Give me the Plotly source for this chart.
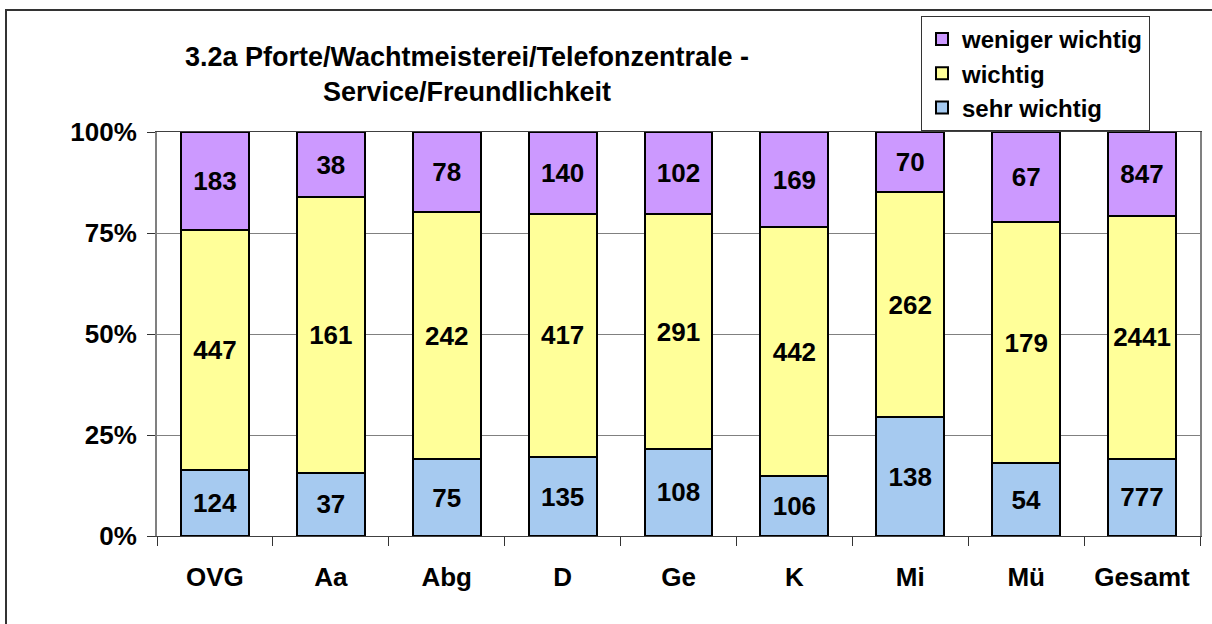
import plotly.graph_objects as go

categories = ["OVG", "Aa", "Abg", "D", "Ge", "K", "Mi", "Mü", "Gesamt"]
sehr_wichtig = [124, 37, 75, 135, 108, 106, 138, 54, 777]
wichtig = [447, 161, 242, 417, 291, 442, 262, 179, 2441]
weniger_wichtig = [183, 38, 78, 140, 102, 169, 70, 67, 847]
y_ticks = [0, 25, 50, 75, 100]
y_tick_labels = ["0%", "25%", "50%", "75%", "100%"]

series = [
    ("sehr wichtig", sehr_wichtig, "#A6CAF0"),
    ("wichtig", wichtig, "#FFFF99"),
    ("weniger wichtig", weniger_wichtig, "#CC99FF"),
]

FONT = "Liberation Sans, Arial, sans-serif"
FS = 26

fig = go.Figure()
for name, vals, color in series:
    fig.add_trace(go.Bar(
        name=name, x=categories, y=vals,
        marker=dict(color=color, line=dict(color="#000000", width=2)),
        text=[str(v) for v in vals],
        textposition="inside", insidetextanchor="middle",
        constraintext="none",
        textfont=dict(family=FONT, size=FS, color="#000000", weight="bold"),
        hoverinfo="skip",
    ))

fig.update_layout(
    barmode="stack", barnorm="percent", bargap=0.414,
    width=1212, height=624,
    margin=dict(l=157, r=12, t=132, b=88, autoexpand=False),
    paper_bgcolor="#FFFFFF", plot_bgcolor="#FFFFFF",
    font=dict(family=FONT, size=FS, color="#000000", weight="bold"),
    title=dict(
        text="3.2a Pforte/Wachtmeisterei/Telefonzentrale -<br>Service/Freundlichkeit",
        x=467 / 1212, xanchor="center", xref="container",
        y=1 - 65.5 / 624, yanchor="middle", yref="container",
        font=dict(family=FONT, size=27, color="#000000", weight="bold"),
    ),
    legend=dict(
        x=(921 - 157) / 1043, y=(536 - 16) / 404,
        xanchor="left", yanchor="top",
        traceorder="reversed",
        bgcolor="#FFFFFF", bordercolor="#333333", borderwidth=1,
        font=dict(family=FONT, size=24, color="#000000", weight="bold"),
    ),
    showlegend=True,
)

fig.update_xaxes(
    type="category", tickson="boundaries",
    ticks="outside", ticklen=9, tickcolor="#333333", tickwidth=1,
    showline=True, linecolor="#404040", linewidth=1, mirror=True,
    showgrid=False, ticklabelstandoff=18,
    tickfont=dict(family=FONT, size=FS, color="#000000", weight="bold"),
)
fig.update_yaxes(
    range=[0, 100], tickmode="array", tickvals=y_ticks, ticktext=y_tick_labels,
    ticks="outside", ticklen=8, tickcolor="#333333", tickwidth=1,
    showline=True, linecolor="#808080", linewidth=2, mirror=True,
    showgrid=True, gridcolor="#808080", gridwidth=1,
    zeroline=False, ticklabelstandoff=5,
    tickfont=dict(family=FONT, size=FS, color="#000000", weight="bold"),
)

# outer chart frame
fig.add_shape(
    type="rect", xref="paper", yref="paper",
    x0=(6 - 157) / 1043, x1=(1230 - 157) / 1043,
    y0=(536 - 640) / 404, y1=(536 - 10) / 404,
    line=dict(color="#333333", width=2), fillcolor="rgba(0,0,0,0)", layer="below",
)

fig.write_html(
    "out.html",
    config={"displayModeBar": False},
    post_script="document.body.style.margin='0';",
)
